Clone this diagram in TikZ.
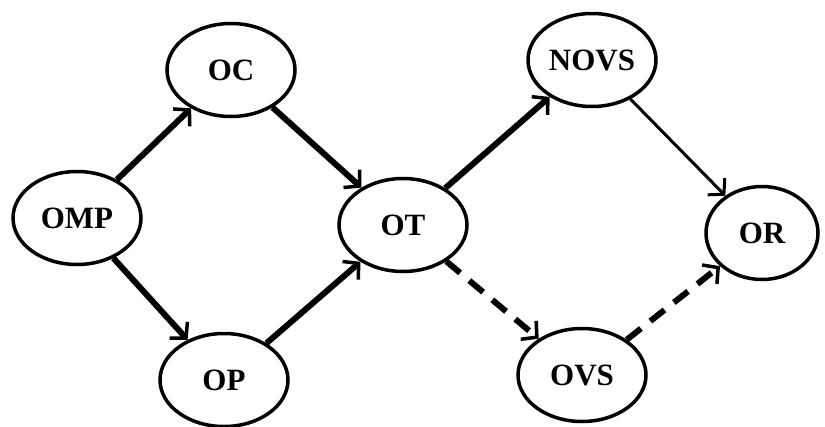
\documentclass[tikz,border=0pt]{standalone}
\usepackage{fontspec}
\setmainfont{Liberation Serif}
\usetikzlibrary{arrows.meta,shapes.geometric}
\begin{document}
\begin{tikzpicture}[x=1pt,y=-1pt,
  state/.style={ellipse,draw,line width=3.5pt,inner sep=0pt,minimum width=128pt,minimum height=93pt,font=\fontsize{31}{31}\selectfont\bfseries},
  arr/.style={line width=6pt,-{Straight Barb[length=11pt,width=24pt,line width=3.5pt]}},
  thinarr/.style={line width=3pt,-{Straight Barb[length=11pt,width=24pt,line width=3pt]}},
  dasharr/.style={arr,dash pattern=on 18pt off 12pt}]
\useasboundingbox[fill=white] (0,0) rectangle (825,426);
\node[state] (OMP) at (77,218) {OMP};
\node[state] (OC) at (231,70) {OC};
\node[state] (OP) at (224,380) {OP};
\node[state] (OT) at (403,225) {OT};
\node[state] (NOVS) at (592,60) {NOVS};
\node[state] (OVS) at (582,375) {OVS};
\node[state,minimum width=112pt] (OR) at (762,233) {OR};
\draw[arr] (OMP) -- (OC);
\draw[arr] (OMP) -- (OP);
\draw[arr] (OC) -- (OT);
\draw[arr] (OP) -- (OT);
\draw[arr] (OT) -- (NOVS);
\draw[thinarr] (NOVS) -- (OR);
\draw[dasharr] (OT) -- (OVS);
\draw[dasharr] (OVS) -- (OR);
\end{tikzpicture}
\end{document}
